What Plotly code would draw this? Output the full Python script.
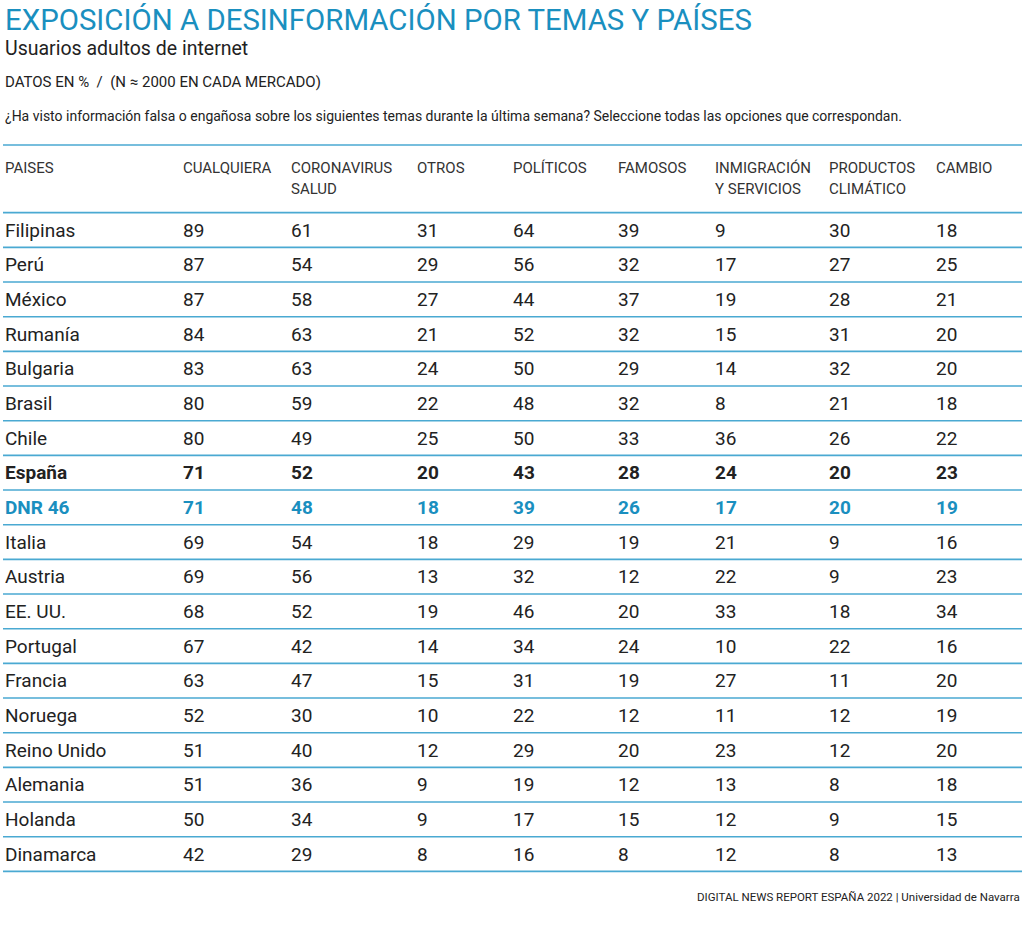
import plotly.graph_objects as go

title = "EXPOSICIÓN A DESINFORMACIÓN POR TEMAS Y PAÍSES"
subtitle = "Usuarios adultos de internet"
units = "DATOS EN %  /  (N ≈ 2000 EN CADA MERCADO)"
question = ("¿Ha visto información falsa o engañosa sobre los siguientes temas durante la última semana? "
            "Seleccione todas las opciones que correspondan.")
footer = "DIGITAL NEWS REPORT ESPAÑA 2022 | Universidad de Navarra"

headers = [("PAISES", ""), ("CUALQUIERA", ""), ("CORONAVIRUS", "SALUD"), ("OTROS", ""),
           ("POLÍTICOS", ""), ("FAMOSOS", ""), ("INMIGRACIÓN", "Y SERVICIOS"),
           ("PRODUCTOS", "CLIMÁTICO"), ("CAMBIO", "")]

countries = ["Filipinas", "Perú", "México", "Rumanía", "Bulgaria", "Brasil", "Chile", "España",
             "DNR 46", "Italia", "Austria", "EE. UU.", "Portugal", "Francia", "Noruega",
             "Reino Unido", "Alemania", "Holanda", "Dinamarca"]
cualquiera = [89, 87, 87, 84, 83, 80, 80, 71, 71, 69, 69, 68, 67, 63, 52, 51, 51, 50, 42]
coronavirus = [61, 54, 58, 63, 63, 59, 49, 52, 48, 54, 56, 52, 42, 47, 30, 40, 36, 34, 29]
otros = [31, 29, 27, 21, 24, 22, 25, 20, 18, 18, 13, 19, 14, 15, 10, 12, 9, 9, 8]
politicos = [64, 56, 44, 52, 50, 48, 50, 43, 39, 29, 32, 46, 34, 31, 22, 29, 19, 17, 16]
famosos = [39, 32, 37, 32, 29, 32, 33, 28, 26, 19, 12, 20, 24, 19, 12, 20, 12, 15, 8]
inmigracion = [9, 17, 19, 15, 14, 8, 36, 24, 17, 21, 22, 33, 10, 27, 11, 23, 13, 12, 12]
productos = [30, 27, 28, 31, 32, 21, 26, 20, 20, 9, 9, 18, 22, 11, 12, 12, 8, 9, 8]
cambio = [18, 25, 21, 20, 20, 18, 22, 23, 19, 16, 23, 34, 16, 20, 19, 20, 18, 15, 13]

columns = [countries, cualquiera, coronavirus, otros, politicos, famosos, inmigracion, productos, cambio]

# layout constants
W, H = 1024, 930
col_x = [3, 181, 289, 415, 511, 616, 713, 827, 934]
row0_px, row_step = 230, 34.67
FONT = "Roboto"
BLUE = "#1a8fbf"
LINE = "#4aa9d2"
TEXT = "#222222"

def px_to_row(p):
    return (p - row0_px) / row_step

fig = go.Figure()
# invisible trace to establish axes
fig.add_trace(go.Scatter(x=[0, W], y=[0, len(countries) - 1], mode="markers",
                         marker=dict(opacity=0), hoverinfo="skip", showlegend=False))

ann = []
shapes = []

def paper_text(text, y_px, size, color, x_px=3, anchor="left", family=FONT):
    ann.append(dict(text=text, x=x_px / W, y=1 - y_px / H, xref="paper", yref="paper",
                    xanchor=anchor, yanchor="middle", showarrow=False,
                    font=dict(family=family, size=size, color=color)))

paper_text(title, 20, 29.4, BLUE)
paper_text(subtitle, 48, 19.5, TEXT)
paper_text(units, 82, 15, TEXT)
paper_text(question, 116, 14, TEXT)
paper_text(footer, 897, 11.5, TEXT, x_px=1022, anchor="right")

# headers
for cx, (l1, l2) in zip(col_x, headers):
    for txt, py in ((l1, 168), (l2, 189)):
        if txt:
            ann.append(dict(text=txt, x=cx, y=px_to_row(py), xref="x", yref="y",
                            xanchor="left", yanchor="middle", showarrow=False,
                            font=dict(family=FONT, size=15, color="#333333")))

# cells
for ci, (cx, col) in enumerate(zip(col_x, columns)):
    for ri, val in enumerate(col):
        name = countries[ri]
        color = TEXT
        txt = str(val)
        if name == "España":
            txt = "<b>" + txt + "</b>"
        elif name == "DNR 46":
            txt = "<b>" + txt + "</b>"
            color = BLUE
        ann.append(dict(text=txt, x=cx, y=ri, xref="x", yref="y", xanchor="left",
                        yanchor="middle", showarrow=False,
                        font=dict(family=FONT, size=19, color=color)))

# lines
line_rows = [px_to_row(145)] + [r - 0.5 for r in range(len(countries) + 1)]
for ly in line_rows:
    shapes.append(dict(type="line", xref="x", yref="y", x0=3, x1=1022, y0=ly, y1=ly,
                       line=dict(color=LINE, width=1.6)))

fig.update_layout(
    width=W, height=H, margin=dict(l=0, r=0, t=0, b=0),
    paper_bgcolor="white", plot_bgcolor="white",
    xaxis=dict(range=[0, W], visible=False, fixedrange=True),
    yaxis=dict(range=[px_to_row(H), px_to_row(0)], visible=False, fixedrange=True),
    annotations=ann, shapes=shapes, showlegend=False,
)

fig.write_html("out.html", config={"displayModeBar": False},
               post_script="document.body.style.margin='0';document.body.style.overflow='hidden';")
